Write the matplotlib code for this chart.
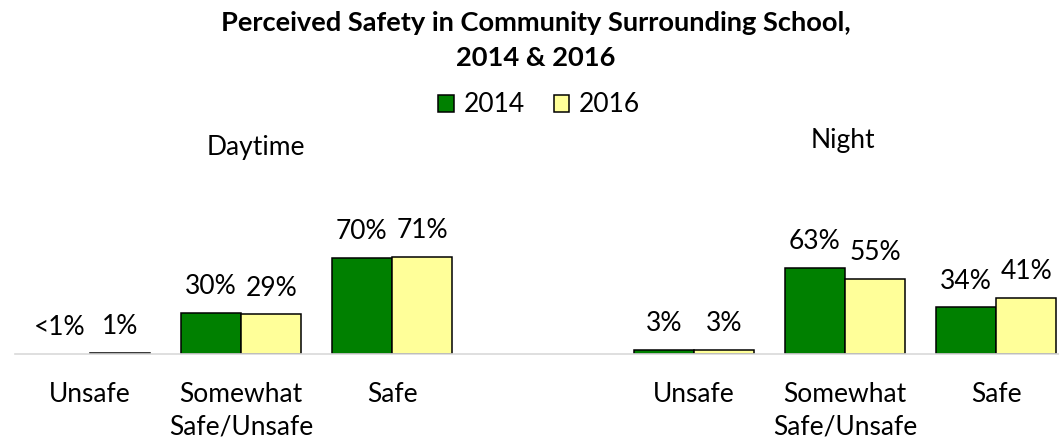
import numpy as np
import matplotlib
matplotlib.use("Agg")
import matplotlib.pyplot as plt
from matplotlib.patches import Patch

plt.rcParams['font.family'] = ['Lato', 'DejaVu Sans']

# data
categories = ['Unsafe', 'Somewhat\nSafe/Unsafe', 'Safe']
periods = ['Daytime', 'Night']
day_2014 = [0, 30, 70]
day_2016 = [1, 29, 71]
night_2014 = [3, 63, 34]
night_2016 = [3, 55, 41]
day_2014_labels = ['<1%', '30%', '70%']
day_2016_labels = ['1%', '29%', '71%']
night_2014_labels = ['3%', '63%', '34%']
night_2016_labels = ['3%', '55%', '41%']

green = '#008000'
yellow = '#FFFF99'
fs = 19

W, H = 1059, 441
fig = plt.figure(figsize=(W / 100, H / 100), dpi=100)
# axes: baseline at y=354px, one category = 151px
ax = fig.add_axes([14.5 / W, 87 / H, 1057 / W, 137 / H])

# daytime groups at 0..2, an empty slot at 3, night at 4..6
x_day = np.arange(len(categories))
x_night = x_day + len(categories) + 1
w = 0.4

bars = [
    (x_day - w / 2, day_2014, day_2014_labels, green),
    (x_day + w / 2, day_2016, day_2016_labels, yellow),
    (x_night - w / 2, night_2014, night_2014_labels, green),
    (x_night + w / 2, night_2016, night_2016_labels, yellow),
]
for xs, vals, labs, col in bars:
    lw = [1.1 if v > 0 else 0 for v in vals]
    ax.bar(xs, vals, width=w, color=col, edgecolor='black', linewidth=lw)
    for xi, v, lab in zip(xs, vals, labs):
        ax.annotate(lab, (xi, v), xytext=(0, 13.5), textcoords='offset points',
                    ha='center', va='baseline', fontsize=fs)

ax.set_xlim(-0.5, 6.5)
ax.set_ylim(0, 100)
ax.set_xticks(np.concatenate([x_day, x_night]))
ax.set_xticklabels(categories * 2, fontsize=fs, linespacing=1.4)
ax.tick_params(axis='x', length=0, pad=20)
ax.set_yticks([])
for s in ['left', 'right', 'top']:
    ax.spines[s].set_visible(False)
ax.spines['bottom'].set_color('#D9D9D9')
ax.spines['bottom'].set_linewidth(1.2)

fig.text(536 / W, 1 - 31 / H, 'Perceived Safety in Community Surrounding School,',
         ha='center', va='baseline', fontsize=19.6, fontweight='bold')
fig.text(536 / W, 1 - 66 / H, '2014 & 2016',
         ha='center', va='baseline', fontsize=19.6, fontweight='bold')
fig.text(256 / W, 1 - 155 / H, periods[0], ha='center', va='baseline', fontsize=fs)
fig.text(843 / W, 1 - 148 / H, periods[1], ha='center', va='baseline', fontsize=fs)

handles = [Patch(facecolor=green, edgecolor='black', linewidth=1.1, label='2014'),
           Patch(facecolor=yellow, edgecolor='black', linewidth=1.1, label='2016')]
fig.legend(handles=handles, loc='center', bbox_to_anchor=(539 / W, 1 - 105 / H),
           ncol=2, frameon=False, fontsize=fs, handlelength=0.6, handleheight=0.6,
           handletextpad=0.35, columnspacing=1.1, borderpad=0, borderaxespad=0)

fig.savefig('out.png', dpi=100)
